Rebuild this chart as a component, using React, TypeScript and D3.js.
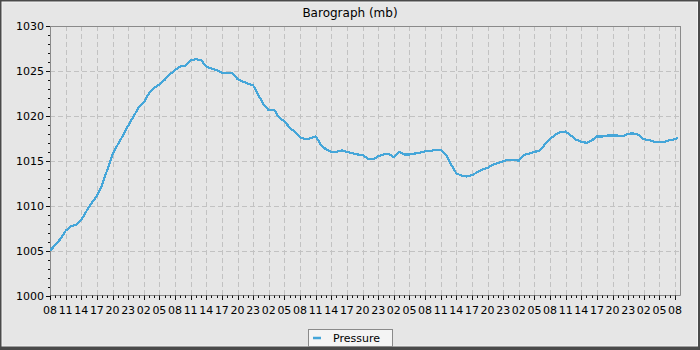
import React from "react";
import * as d3 from "d3";

const title = "Barograph (mb)";
const seriesName = "Pressure";

// hourly pressure readings (mb), starting 08:00 day 1
const pressure = [
  1005.0, 1005.6, 1006.3, 1007.2, 1007.7, 1007.9, 1008.4, 1009.4, 1010.3, 1011.1,
  1012.3, 1014.0, 1015.7, 1016.8, 1017.8, 1018.9, 1019.9, 1020.9, 1021.5, 1022.5,
  1023.1, 1023.5, 1024.0, 1024.6, 1025.1, 1025.5, 1025.6, 1026.2, 1026.3, 1026.2,
  1025.5, 1025.25, 1025.1, 1024.8, 1024.8, 1024.75, 1024.1, 1023.8, 1023.6, 1023.4,
  1022.3, 1021.3, 1020.6, 1020.7, 1019.8, 1019.4, 1018.7, 1018.2, 1017.6, 1017.4,
  1017.5, 1017.7, 1016.8, 1016.25, 1016.0, 1016.0, 1016.15, 1016.0, 1015.85, 1015.7,
  1015.65, 1015.25, 1015.15, 1015.5, 1015.7, 1015.75, 1015.4, 1016.0, 1015.7, 1015.7,
  1015.8, 1015.9, 1016.05, 1016.1, 1016.2, 1016.2, 1015.7, 1014.6, 1013.6, 1013.35,
  1013.25, 1013.4, 1013.7, 1014.0, 1014.2, 1014.55, 1014.75, 1014.95, 1015.1, 1015.1,
  1015.0, 1015.65, 1015.8, 1016.0, 1016.1, 1016.8, 1017.4, 1017.9, 1018.2, 1018.25,
  1017.8, 1017.35, 1017.1, 1017.0, 1017.25, 1017.7, 1017.7, 1017.8, 1017.8, 1017.8,
  1017.75, 1018.0, 1018.05, 1017.9, 1017.4, 1017.3, 1017.1, 1017.05, 1017.1, 1017.3,
  1017.4,
];
const lastHour = 120.5;
const lastPressure = 1017.6;

const xTickLabels = [
  "08", "11", "14", "17", "20", "23", "02", "05",
  "08", "11", "14", "17", "20", "23", "02", "05",
  "08", "11", "14", "17", "20", "23", "02", "05",
  "08", "11", "14", "17", "20", "23", "02", "05",
  "08", "11", "14", "17", "20", "23", "02", "05",
  "08",
];
const yMajorTicks = [1000, 1005, 1010, 1015, 1020, 1025, 1030];

export default function App() {
  const W = 700, H = 350;
  const left = 50, right = 680.5, top = 26, bottom = 295.5;
  const x = d3.scaleLinear().domain([0, 121.05]).range([left, right]);
  const y = d3.scaleLinear().domain([1000, 1030]).range([bottom, top]);

  const pts: [number, number][] = pressure.map((p, i) => [i, p]);
  pts.push([lastHour, lastPressure]);
  const line = d3.line<[number, number]>().x(d => x(d[0])).y(d => y(d[1]));

  const majorHours = xTickLabels.map((_, i) => i * 3);
  const minorHours = d3.range(0, 121).filter(h => h % 3 !== 0);
  const yMinor = d3.range(1000, 1031).filter(v => v % 5 !== 0);

  const font = "DejaVu Sans, sans-serif";
  const grid = "#c2c2c2";

  return (
    <svg width={W} height={H} style={{ position: "absolute", left: 0, top: 0 }}>
      <rect x={0} y={0} width={W} height={H} fill="#4a4a4a" />
      <rect x={2} y={2} width={695.5} height={344} fill="#e6e6e6" stroke="#f4f4f4" strokeWidth={1} />
      <text x={350} y={17} textAnchor="middle" fontFamily={font} fontSize={12} fill="#000">{title}</text>

      {/* grid */}
      {yMajorTicks.slice(1, -1).map(v => (
        <line key={"gy" + v} x1={left} x2={right} y1={Math.round(y(v)) + 0.5} y2={Math.round(y(v)) + 0.5}
          stroke={grid} strokeDasharray="5,3" />
      ))}
      {majorHours.slice(1).map(h => (
        <line key={"gx" + h} x1={Math.round(x(h)) + 0.5} x2={Math.round(x(h)) + 0.5} y1={top} y2={bottom}
          stroke={grid} strokeDasharray="5,3" />
      ))}

      {/* plot border */}
      <line x1={left} x2={right} y1={top + 0.5} y2={top + 0.5} stroke="#8a8a8a" />
      <line x1={right} x2={right} y1={top} y2={bottom} stroke="#8a8a8a" />
      <line x1={left + 0.5} x2={left + 0.5} y1={top} y2={bottom + 1} stroke="#8a8a8a" />
      <line x1={left} x2={right} y1={bottom} y2={bottom} stroke="#8a8a8a" />

      {/* y ticks */}
      {yMajorTicks.map(v => (
        <g key={"yt" + v}>
          <line x1={left - 4} x2={left} y1={Math.round(y(v)) + 0.5} y2={Math.round(y(v)) + 0.5} stroke="#111" />
          <text x={left - 6} y={y(v) + 4} textAnchor="end" fontFamily={font} fontSize={11} fill="#000">{v}</text>
        </g>
      ))}
      {yMinor.map(v => (
        <line key={"ym" + v} x1={left - 2} x2={left} y1={Math.round(y(v)) + 0.5} y2={Math.round(y(v)) + 0.5} stroke="#111" />
      ))}

      {/* x ticks */}
      {majorHours.map((h, i) => (
        <g key={"xt" + h}>
          <line x1={Math.round(x(h)) + 0.5} x2={Math.round(x(h)) + 0.5} y1={bottom} y2={bottom + 4.5} stroke="#111" />
          <text x={x(h)} y={314} textAnchor="middle" fontFamily={font} fontSize={11} fill="#000">{xTickLabels[i]}</text>
        </g>
      ))}
      {minorHours.map(h => (
        <line key={"xm" + h} x1={Math.round(x(h)) + 0.5} x2={Math.round(x(h)) + 0.5} y1={bottom} y2={bottom + 2.5} stroke="#111" />
      ))}

      {/* series */}
      <path d={line(pts) || ""} fill="none" stroke="#45a6d9" strokeWidth={2.2} strokeLinejoin="round"
        shapeRendering="crispEdges" />

      {/* legend */}
      <rect x={308.5} y={329.5} width={84} height={17} fill="#f4f4f4" stroke="#8a8a8a" />
      <line x1={313} x2={321} y1={338} y2={338} stroke="#45a6d9" strokeWidth={2.5} />
      <text x={333} y={342} fontFamily={font} fontSize={11} fill="#000">{seriesName}</text>
    </svg>
  );
}
